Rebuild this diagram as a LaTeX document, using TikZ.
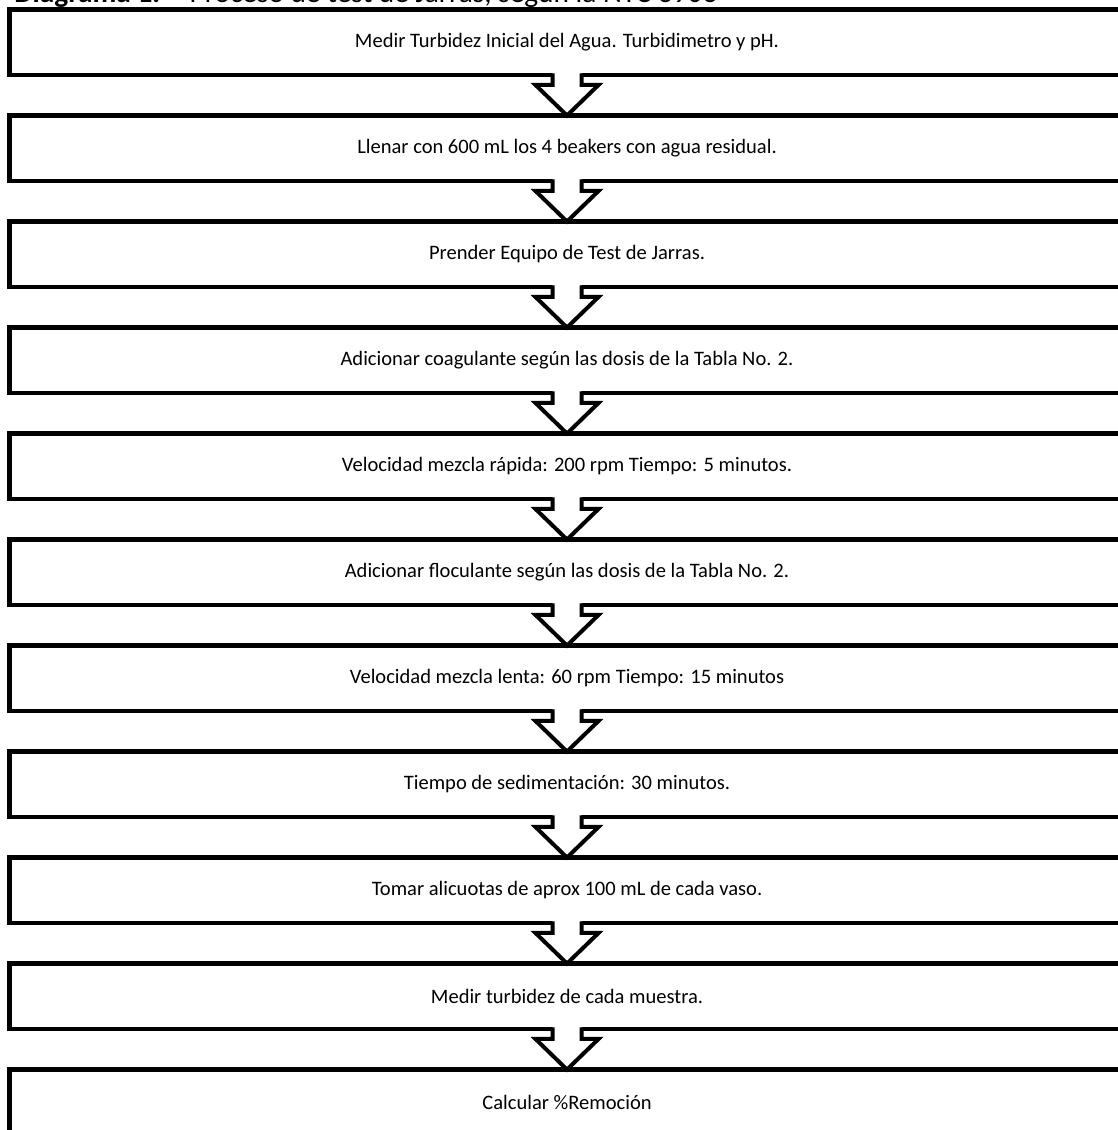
\documentclass[tikz,border=0pt]{standalone}
\usepackage{fontspec}
\setmainfont{Carlito}
\begin{document}
\begin{tikzpicture}[x=0.75pt,y=-0.75pt,
  stepbox/.style={draw=black, line width=3.4pt, outer sep=0pt, inner sep=0pt,
    minimum width=836.6pt, minimum height=49.1pt, align=center,
    font=\fontsize{15.4}{18}\selectfont},
  arrowfill/.style={fill=white},
  arrowline/.style={draw=black, line width=3pt, line join=miter},
  titletext/.style={anchor=base west, inner sep=0pt, font=\fontsize{22}{26}\selectfont}]
\useasboundingbox (0,0) rectangle (1117,1130);

\node[titletext] (title) at (14,2.5) {\textbf{Diagrama 1.}\quad Proceso de test de Jarras, según la NTC 3903};

\node[stepbox] (b1)  at (567,  42.25) {Medir Turbidez Inicial del Agua. Turbidimetro y pH.};
\node[stepbox] (b2)  at (567, 148.25) {Llenar con 600 mL los 4 beakers con agua residual.};
\node[stepbox] (b3)  at (567, 254.25) {Prender Equipo de Test de Jarras.};
\node[stepbox] (b4)  at (567, 360.25) {Adicionar coagulante según las dosis de la Tabla No. 2.};
\node[stepbox] (b5)  at (567, 466.25) {Velocidad mezcla rápida: 200 rpm Tiempo: 5 minutos.};
\node[stepbox] (b6)  at (567, 572.25) {Adicionar floculante según las dosis de la Tabla No. 2.};
\node[stepbox] (b7)  at (567, 678.25) {Velocidad mezcla lenta: 60 rpm Tiempo: 15 minutos};
\node[stepbox] (b8)  at (567, 784.25) {Tiempo de sedimentación: 30 minutos.};
\node[stepbox] (b9)  at (567, 890.25) {Tomar alicuotas de aprox 100 mL de cada vaso.};
\node[stepbox] (b10) at (567, 996.25) {Medir turbidez de cada muestra.};
\node[stepbox] (b11) at (567,1102.25) {Calcular \%Remoción};

\foreach \a/\b in {b1/b2,b2/b3,b3/b4,b4/b5,b5/b6,b6/b7,b7/b8,b8/b9,b9/b10,b10/b11}{
  \fill[arrowfill] ([shift={(-14.5,-3)}]\a.south) -- ([shift={(-14.5,10)}]\a.south)
    -- ([shift={(-31.5,10)}]\a.south) -- (\b.north) -- ([shift={(31.5,10)}]\a.south)
    -- ([shift={(14.5,10)}]\a.south) -- ([shift={(14.5,-3)}]\a.south) -- cycle;
  \draw[arrowline] ([shift={(-14.5,-1.5)}]\a.south) -- ([shift={(-14.5,10)}]\a.south)
    -- ([shift={(-31.5,10)}]\a.south) -- (\b.north) -- ([shift={(31.5,10)}]\a.south)
    -- ([shift={(14.5,10)}]\a.south) -- ([shift={(14.5,-1.5)}]\a.south);
}
\end{tikzpicture}
\end{document}
